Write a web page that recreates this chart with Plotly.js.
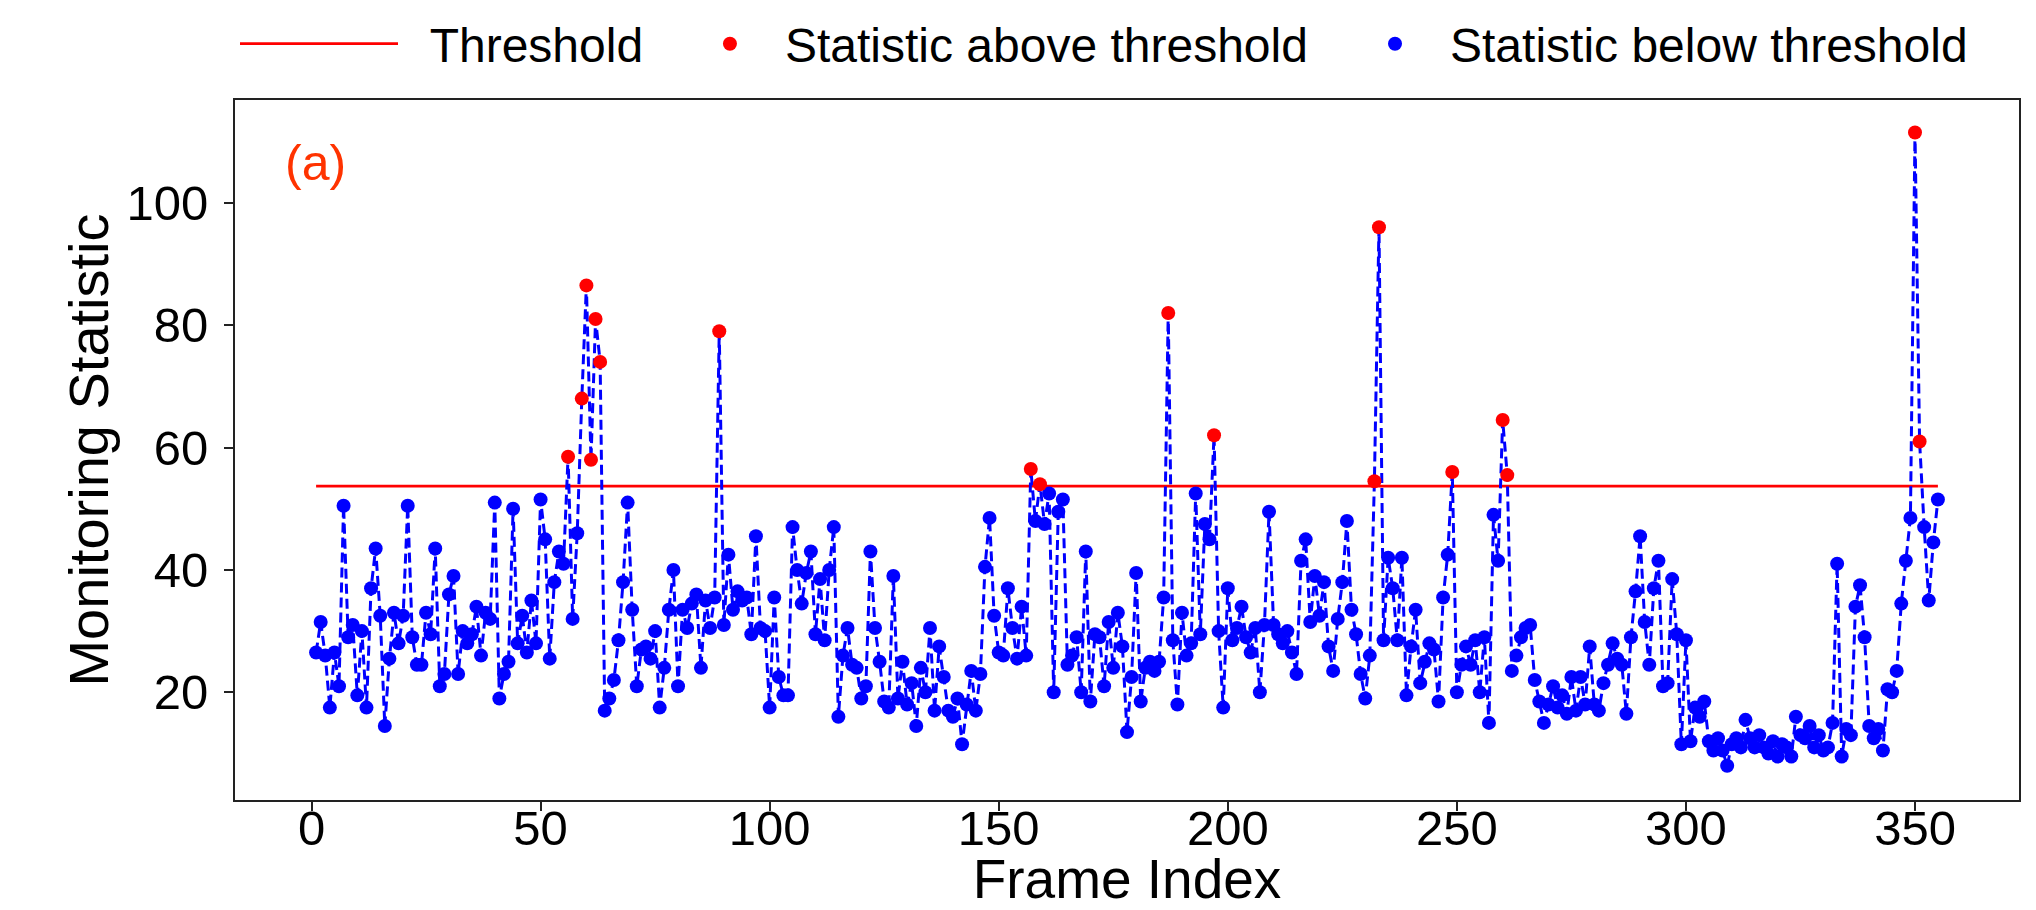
<!DOCTYPE html>
<html>
<head>
<meta charset="utf-8">
<script src="https://cdn.plot.ly/plotly-3.0.1.min.js"></script>
<style>html,body{margin:0;padding:0;background:#fff;}#chart{width:2036px;height:910px;}</style>
</head>
<body>
<div id="chart"></div>
<script>
// ---- data ----
const statistic = [
 26.5,31.5,26,17.5,26.5,21,50.5,29,31,19.5,
 30,17.5,37,43.5,32.5,14.5,25.5,33,28,32.5,
 50.5,29,24.5,24.5,33,29.5,43.5,21,23,36,
 39,23,30,28,29.5,34,26,33,32,51,
 19,23,25,50,28,32.5,26.5,35,28,51.5,
 45,25.5,38,43,41,58.5,32,46,68,86.5,
 58,81,74,17,19,22,28.5,38,51,33.5,
 21,27,27.5,25.5,30,17.5,24,33.5,40,21,
 33.5,30.5,34.5,36,24,35,30.5,35.5,79,31,
 42.5,33.5,36.5,35,35.5,29.5,45.5,30.5,30,17.5,
 35.5,22.5,19.5,19.5,47,40,34.5,39.5,43,29.5,
 38.5,28.5,40,47,16,26,30.5,24.5,24,19,
 21,43,30.5,25,18.5,17.5,39,19,25,18,
 21.5,14.5,24,20,30.5,17,27.5,22.5,17,16,
 19,11.5,18,23.5,17,23,40.5,48.5,32.5,26.5,
 26,37,30.5,25.5,34,26,56.5,48,54,47.5,
 52.5,20,49.5,51.5,24.5,26,29,20,43,18.5,
 29.5,29,21,31.5,24,33,27.5,13.5,22.5,39.5,
 18.5,24,25,23.5,25,35.5,82,28.5,18,33,
 26,28,52.5,29.5,47.5,45,62,30,17.5,37,
 28.5,30.5,34,29,26.5,30.5,20,31,49.5,31,
 29.5,28,30,26.5,23,41.5,45,31.5,39,32.5,
 38,27.5,23.5,32,38,48,33.5,29.5,23,19,
 26,54.5,96,28.5,42,37,28.5,42,19.5,27.5,
 33.5,21.5,25,28,27,18.5,35.5,42.5,56,20,
 24.5,27.5,24.5,28.5,20,29,15,49,41.5,64.5,
 55.5,23.5,26,29,30.5,31,22,18.5,15,18,
 21,17.5,19.5,16.5,22.5,17,22.5,18,27.5,18,
 17,21.5,24.5,28,25.5,24.5,16.5,29,36.5,45.5,
 31.5,24.5,37,41.5,21,21.5,38.5,29.5,11.5,28.5,
 12,17.5,16,18.5,12,10.5,12.5,10.5,8,11.5,
 12.5,11,15.5,12.5,11,13,11,10,12,9.5,
 11.5,11,9.5,16,13,12.5,14.5,11,13,10.5,
 11,15,41,9.5,14,13,34,37.5,29,14.5,
 12.5,14,10.5,20.5,20,23.5,34.5,41.5,48.5,111.5,
 61,47,35,44.5,51.5
];
const frameIndex = statistic.map((v, i) => i + 1);
const thresholdValue = 53.7;
const xTickValues = [0, 50, 100, 150, 200, 250, 300, 350];
const yTickValues = [20, 40, 60, 80, 100];

// split points by threshold
const aboveX = [], aboveY = [], belowX = [], belowY = [];
frameIndex.forEach((f, i) => {
  if (statistic[i] > thresholdValue) { aboveX.push(f); aboveY.push(statistic[i]); }
  else { belowX.push(f); belowY.push(statistic[i]); }
});

const FONT = "Liberation Sans, Arial, sans-serif";
const BLUE = "#0000ff", RED = "#ff0000";

const traces = [
  {
    x: [frameIndex[0], frameIndex[frameIndex.length - 1]],
    y: [thresholdValue, thresholdValue],
    mode: "lines", name: "\u00a0\u00a0Threshold",
    line: {color: RED, width: 2.8},
    legend: "legend", hoverinfo: "skip"
  },
  {
    x: frameIndex, y: statistic, mode: "lines",
    line: {color: BLUE, width: 3, dash: "10px,5px"},
    showlegend: false, hoverinfo: "skip"
  },
  {
    x: belowX, y: belowY, mode: "markers", name: "Statistic below threshold",
    marker: {color: BLUE, size: 14},
    legend: "legend3"
  },
  {
    x: aboveX, y: aboveY, mode: "markers", name: "Statistic above threshold",
    marker: {color: RED, size: 14},
    legend: "legend2"
  }
];

const legendBase = {
  orientation: "h", yanchor: "middle", xanchor: "left", y: 1.08,
  font: {family: FONT, size: 48, color: "#000"},
  bgcolor: "rgba(0,0,0,0)", borderwidth: 0
};

const layout = {
  width: 2036, height: 910,
  margin: {l: 235, r: 17, t: 100, b: 110, pad: 0, autoexpand: false},
  paper_bgcolor: "#fff", plot_bgcolor: "#fff",
  font: {family: FONT, color: "#000"},
  showlegend: true,
  legend: Object.assign({}, legendBase, {x: 0.0, itemwidth: 158}),
  legend2: Object.assign({}, legendBase, {x: 0.2466, itemwidth: 100}),
  legend3: Object.assign({}, legendBase, {x: 0.6194, itemwidth: 100}),
  xaxis: {
    range: [-16.7, 372.7], tickvals: xTickValues, ticktext: xTickValues.map(String),
    showgrid: false, zeroline: false, automargin: false,
    showline: true, mirror: true, linecolor: "#222", linewidth: 2,
    ticks: "outside", ticklen: 9, tickwidth: 2, tickcolor: "#222",
    ticklabelstandoff: -25,
    tickfont: {family: FONT, size: 49, color: "#000"},
    title: {text: "Frame Index", font: {family: FONT, size: 55, color: "#000"}, standoff: 23}
  },
  yaxis: {
    range: [2.4, 116.8], tickvals: yTickValues, ticktext: yTickValues.map(String),
    showgrid: false, zeroline: false, automargin: false,
    showline: true, mirror: true, linecolor: "#222", linewidth: 2,
    ticks: "outside", ticklen: 9, tickwidth: 2, tickcolor: "#222",
    ticklabelstandoff: 6,
    tickfont: {family: FONT, size: 49, color: "#000"},
    title: {text: "Monitoring Statistic", font: {family: FONT, size: 56, color: "#000"}, standoff: 0}
  },
  annotations: [{
    text: "(a)", xref: "paper", yref: "paper", x: 0.045, y: 0.91,
    xanchor: "center", yanchor: "middle", showarrow: false,
    font: {family: FONT, size: 50, color: "#ff3300"}
  }]
};

Plotly.newPlot("chart", traces, layout, {displayModeBar: false, responsive: false});
</script>
</body>
</html>
